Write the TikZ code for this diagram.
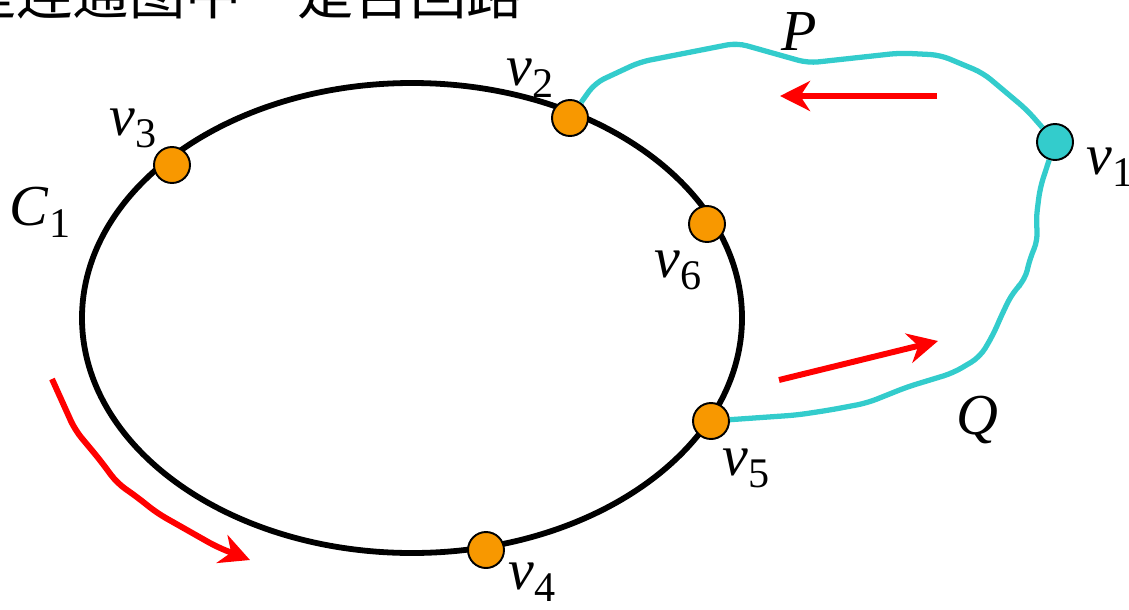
\documentclass[tikz,border=0pt]{standalone}
\usepackage{fontspec}
\setmainfont{Liberation Serif}
\newfontfamily\cjk{Noto Sans CJK SC}
\usetikzlibrary{arrows.meta}
\definecolor{vorange}{RGB}{248,152,0}
\definecolor{vcyan}{RGB}{51,204,204}
\newcommand{\vlab}[2]{\textit{#1}\raisebox{-0.45ex}{\fontsize{24}{26}\selectfont #2}}

\begin{document}
\begin{tikzpicture}[x=0.02cm, y=-0.02cm,
    vtx/.style={circle, draw=black, line width=1.1pt, fill=vorange, minimum size=0.72cm, inner sep=0pt},
    lab/.style={font=\fontsize{33}{36}\selectfont, inner sep=0pt},
    cpath/.style={draw=vcyan, line width=3pt, rounded corners=0.2cm},
    redarr/.style={draw=red, line width=3.4pt, -{Stealth[length=0.6cm, width=0.6cm]}}]
  \useasboundingbox (0,0) rectangle (1129,609);
  \clip (0,0) rectangle (1129,609);
  \node[anchor=base west, font=\cjk\fontsize{32}{34}\selectfont, inner sep=0pt] (title) at (-40,14) {是连通图中　是否回路};

  \draw[line width=3.3pt] (412,318) ellipse [x radius=330, y radius=235];

  \node[vtx] (v2) at (570,118) {};
  \node[vtx] (v3) at (172,165) {};
  \node[vtx] (v6) at (707,224) {};
  \node[vtx] (v5) at (711,421) {};
  \node[vtx] (v4) at (486,550) {};
  \node[vtx, fill=vcyan] (v1) at (1055,142) {};

  \node[lab] (l2) at (530,78) {\vlab{v}{2}};
  \node[lab] (l3) at (133,128) {\vlab{v}{3}};
  \node[lab] (l6) at (678,270) {\vlab{v}{6}};
  \node[lab] (l5) at (746,468) {\vlab{v}{5}};
  \node[lab] (l4) at (532,582) {\vlab{v}{4}};
  \node[lab] (l1) at (1110,167) {\vlab{v}{1}};
  \node[lab] (c1) at (40,212) {\vlab{C}{1}};
  \node[lab] (lp) at (799,32) {\textit{P}};
  \node[lab] (lq) at (977,420) {\textit{Q}};

  \draw[cpath] (v2) -- (595,83) -- (640,62) -- (737,43) -- (808,63) -- (900,53)
    -- (940,55) -- (983,73) -- (1027,110) -- (v1);
  \draw[cpath] (v1) -- (1040,188) -- (1036,220) -- (1038,240) -- (1030,258)
    -- (1025,280) -- (1013,292) -- (1003,312) -- (993,335) -- (980,357)
    -- (953,373) -- (907,387) -- (867,403) -- (830,410) -- (797,415) -- (v5);

  \coordinate (ps) at (937,96);
  \coordinate (pe) at (780,96);
  \coordinate (qs) at (779,380);
  \coordinate (qe) at (938,341);
  \coordinate (cs) at (52,379);
  \coordinate (ce) at (250,560);
  \draw[redarr] (ps) -- (pe);
  \draw[redarr] (qs) -- (qe);
  \draw[redarr, rounded corners=0.2cm] (cs) -- (75,430) -- (100,460) -- (117,483)
    -- (137,497) -- (157,513) -- (187,530) -- (217,547) -- (ce);
\end{tikzpicture}
\end{document}
